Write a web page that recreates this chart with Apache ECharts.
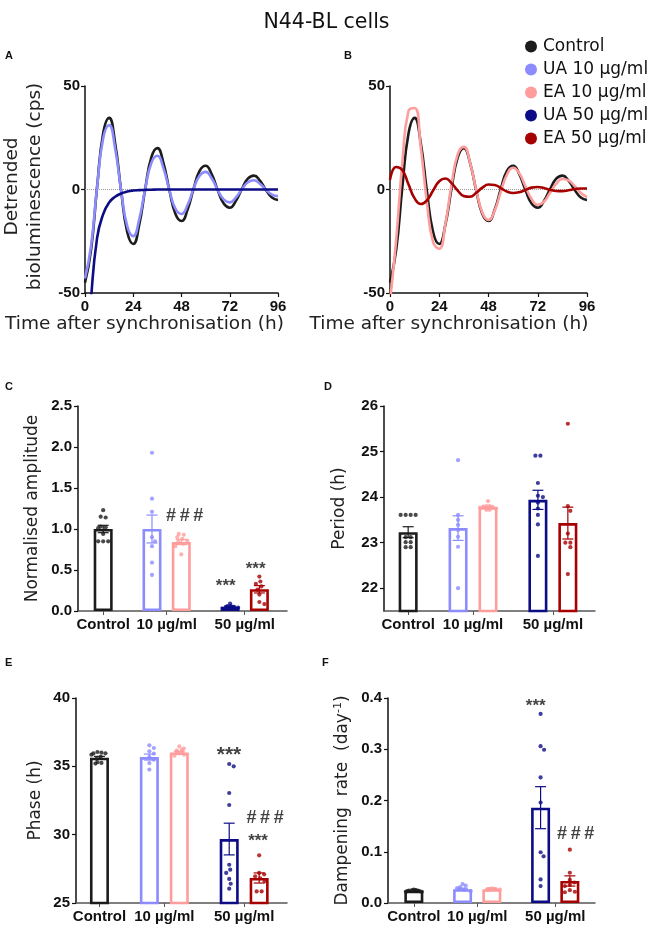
<!DOCTYPE html>
<html><head><meta charset="utf-8">
<script src="https://cdn.jsdelivr.net/npm/echarts@6/dist/echarts.min.js"></script>
<style>html,body{margin:0;padding:0;background:#fff}#c{width:653px;height:926px}</style>
</head><body><div id="c"></div>
<script>
// ================= DATA =================
const seriesNames = ['Control', 'UA 10 µg/ml', 'EA 10 µg/ml', 'UA 50 µg/ml', 'EA 50 µg/ml'];
const groupLabels = ['Control', '10 µg/ml', '50 µg/ml'];

// Detrended bioluminescence traces (cps), sampled every 3 h
const timeH = [0,3,6,9,12,15,18,21,24,27,30,33,36,39,42,45,48,51,54,57,60,63,66,69,72,75,78,81,84,87,90,93,96];
const controlTrace = [-45.0,-29.3,1.0,26.9,34.6,22.3,-0.8,-20.5,-26.3,-16.9,0.6,15.5,20.0,12.9,-0.5,-11.8,-15.2,-9.8,0.3,9.0,11.5,7.4,-0.3,-6.8,-8.8,-5.6,0.2,5.2,6.7,4.3,-0.2,-3.9,-5.1];
const ua10Trace = [-43.0,-27.3,1.0,24.5,31.1,19.7,-0.7,-17.7,-22.5,-14.3,0.5,12.8,16.3,10.3,-0.4,-9.3,-11.8,-7.5,0.3,6.7,8.5,5.4,-0.2,-4.8,-6.2,-3.9,0.1,3.5,4.5,2.8,-0.1,-2.5,-3.2];
const ua50Trace = [-95,-53,-23.5,-12,-6.3,-3.5,-1.9,-1.0,-0.5,-0.3,-0.2,-0.1,0,0,0,0,0,0,0,0,0,0,0,0,0,0,0,0,0,0,0,0,0];
const ea10Trace = [-53.8,-24.5,12.9,37.9,39.4,20.4,-6.3,-25.5,-28.6,-16.5,2.3,17.0,20.6,13.0,-0.1,-11.2,-14.7,-10.2,-1.0,7.2,10.5,7.8,1.5,-4.6,-7.4,-5.9,-1.6,2.8,5.1,4.4,1.6,-1.7,-3.6];
const ea50Trace = [4.7,10.9,9.4,2.5,-4.3,-7.0,-5.2,-0.5,4.0,5.3,3.1,-0.5,-3.2,-3.5,-1.6,0.9,2.4,2.2,0.7,-1.0,-1.7,-1.3,-0.2,0.9,1.2,0.7,-0.1,-0.7,-0.8,-0.4,0.2,0.5,0.5];

// Bar panels: order = Control, UA10, EA10, UA50, EA50
const amplitudeMean = [1.00, 1.00, 0.84, 0.053, 0.265];
const amplitudeSem  = [0.045, 0.17, 0.03, 0.007, 0.045];
const amplitudePoints = [
  [1.23,1.15,1.14,1.03,1.02,1.01,0.94,0.85,0.85,0.85],
  [1.93,1.37,1.21,0.90,0.85,0.79,0.59,0.44],
  [0.94,0.93,0.90,0.88,0.86,0.84,0.82,0.79,0.69],
  [0.09,0.06,0.06,0.05,0.05,0.05,0.04,0.04,0.03],
  [0.42,0.36,0.33,0.30,0.26,0.20,0.11,0.085]
];
const periodMean = [23.23, 23.32, 23.78, 23.94, 23.43];
const periodSem  = [0.12, 0.27, 0.02, 0.21, 0.35];
const periodPoints = [
  [23.61,23.61,23.61,23.61,23.12,23.12,23.01,23.01,22.90,22.90],
  [24.81,23.61,23.50,23.39,23.28,23.13,22.91,22.00],
  [23.91,23.80,23.80,23.79,23.78,23.77,23.75,23.72,23.72],
  [24.91,24.91,24.31,24.03,24.00,23.88,23.75,23.61,23.40,22.71],
  [25.61,23.80,23.70,23.20,23.00,23.00,22.90,22.31]
];
const phaseMean = [35.63, 35.68, 36.02, 29.68, 26.83];
const phaseSem  = [0.10, 0.22, 0.07, 1.16, 0.37];
const phasePoints = [
  [36.05,36.00,35.95,35.95,35.85,35.70,35.55,35.30,35.25,35.20],
  [36.54,36.34,36.10,35.93,35.68,35.49,35.24,34.76],
  [36.46,36.30,36.20,36.15,36.10,36.05,35.95,35.85,35.78],
  [35.17,35.00,33.05,32.17,27.80,27.44,27.20,26.76,26.41,26.05],
  [28.49,27.20,27.10,26.95,26.80,26.60,25.85,25.85]
];
const dampMean = [0.024, 0.027, 0.027, 0.186, 0.043];
const dampSem  = [0.001, 0.002, 0.0005, 0.041, 0.010];
const dampPoints = [
  [0.026,0.025,0.025,0.024,0.024,0.024,0.023,0.023,0.022,0.022],
  [0.037,0.034,0.031,0.029,0.027,0.026,0.023],
  [0.028,0.028,0.027,0.027,0.027,0.027,0.026,0.026,0.026],
  [0.369,0.306,0.299,0.245,0.196,0.099,0.091,0.046,0.033],
  [0.104,0.059,0.045,0.040,0.035,0.033,0.025,0.022,0.021]
];

// ================= STYLE / LAYOUT =================
const COLORS = ['#1c1c1c', '#8c8cff', '#ff9c9c', '#0c0c86', '#a60000'];
const GROUP_X = [0, 5, 8, 13, 16];      // slot of each bar on the x axis
const TICK_X = [0, 6.5, 14.5];          // slots of the three group labels
const NUM_FONT = 'Liberation Sans, Arial, sans-serif';
const TXT_FONT = 'DejaVu Sans, sans-serif';
const HASH = '#\u2009#\u2009#';

const grids = [
  {left: 81,  top: 86,  width: 197, height: 207},  // A
  {left: 390, top: 86,  width: 197, height: 207},  // B
  {left: 78,  top: 406, width: 209, height: 205},  // C
  {left: 384, top: 406, width: 211, height: 205},  // D
  {left: 76,  top: 698, width: 211, height: 205},  // E
  {left: 388, top: 698, width: 207, height: 205}   // F
];

const axisLineBlack = {show: true, onZero: false, lineStyle: {color: '#111', width: 1.5}};
const tickBlack = {show: true, length: 4, lineStyle: {color: '#111', width: 1.2}};
const numLabel = {fontFamily: NUM_FONT, fontWeight: 'bold', fontSize: 15, color: '#111'};

function lineX(gi, padRight) {
  return {gridIndex: gi, type: 'value', min: 0, max: 96, interval: 24,
    axisLine: axisLineBlack, axisTick: tickBlack, splitLine: {show: false},
    axisLabel: Object.assign({margin: 6}, numLabel),
    name: 'Time after synchronisation (h)', nameLocation: 'middle', nameGap: 19,
    nameTextStyle: {fontFamily: TXT_FONT, fontSize: 18.5, color: '#222', padding: [0, padRight, 0, 0]}};
}
function lineY(gi, name) {
  return {gridIndex: gi, type: 'value', min: -50, max: 50, interval: 50,
    axisLine: axisLineBlack, axisTick: tickBlack, splitLine: {show: false},
    axisLabel: Object.assign({margin: 5}, numLabel),
    name: name, nameLocation: 'middle', nameGap: 38,
    nameTextStyle: {fontFamily: TXT_FONT, fontSize: 18.5, color: '#222', lineHeight: 23, padding: [0, 0, 0, 6]}};
}
function barX(gi, min, max) {
  return {gridIndex: gi, type: 'value', min: min, max: max,
    axisLine: {show: true, onZero: false, lineStyle: {color: '#555', width: 1.5}},
    axisTick: {show: true, length: 4, customValues: TICK_X, lineStyle: {color: '#555'}},
    splitLine: {show: false},
    axisLabel: Object.assign({margin: 6, customValues: TICK_X,
      formatter: function (v) {
        let best = 0;
        TICK_X.forEach(function (t, i) { if (Math.abs(t - v) < Math.abs(TICK_X[best] - v)) best = i; });
        return groupLabels[best];
      }}, numLabel, {fontSize: 15})};
}
function barY(gi, cfg) {
  const ax = {gridIndex: gi, type: 'value', min: cfg.min, max: cfg.max,
    axisLine: axisLineBlack, axisTick: Object.assign({}, tickBlack),
    splitLine: {show: false},
    axisLabel: Object.assign({margin: 6}, numLabel, cfg.fmt ? {formatter: cfg.fmt} : {}),
    name: cfg.name, nameLocation: 'middle', nameGap: cfg.gap,
    nameTextStyle: Object.assign({fontFamily: TXT_FONT, fontSize: 17, color: '#222'}, cfg.nameStyle || {})};
  if (cfg.custom) {
    ax.axisLabel.customValues = cfg.custom;
    ax.axisTick.customValues = cfg.custom;
  } else {
    ax.interval = cfg.interval;
  }
  return ax;
}

// deterministic beeswarm offsets (pixels) so that dots do not overlap, kept inside the bar
function swarm(vals, pxPerUnit) {
  const D = 5.0, MAXOFF = 8;
  const order = vals.map(function (v, i) { return i; }).sort(function (a, b) { return vals[b] - vals[a]; });
  const placed = [];
  const off = new Array(vals.length).fill(0);
  order.forEach(function (i) {
    const y = vals[i] * pxPerUnit;
    let chosen = 0;
    for (let s = 0; s < 120; s++) {
      const cand = (s % 2 === 1 ? 1 : -1) * Math.ceil(s / 2) * 0.5;
      if (placed.every(function (p) { return Math.hypot(p.x - cand, p.y - y) >= D; })) { chosen = cand; break; }
    }
    off[i] = chosen;
    placed.push({x: chosen, y: y});
  });
  const used = new Array(vals.length).fill(false);
  for (let a = 0; a < vals.length; a++) {
    if (used[a]) continue;
    const row = [];
    for (let b = 0; b < vals.length; b++) {
      if (!used[b] && Math.abs(vals[b] - vals[a]) * pxPerUnit < 1) row.push(b);
    }
    row.forEach(function (b) { used[b] = true; });
    if (row.length > 1) {
      const m = row.reduce(function (s, b) { return s + off[b]; }, 0) / row.length;
      row.forEach(function (b) { off[b] -= m; });
    }
  }
  const mx = Math.max.apply(null, off.map(Math.abs));
  if (mx > MAXOFF) { for (let j = 0; j < off.length; j++) off[j] *= MAXOFF / mx; }
  return off;
}

function barPanelSeries(gi, means, sems, points, pxPerUnit, notes) {
  const out = [];
  out.push({type: 'bar', xAxisIndex: gi, yAxisIndex: gi, barWidth: 19, silent: true, z: 2, clip: true,
    data: means.map(function (m, k) {
      return {value: [GROUP_X[k], m], itemStyle: {color: 'rgba(255,255,255,0)', borderColor: COLORS[k], borderWidth: 2.6}};
    })});
  out.push({type: 'custom', xAxisIndex: gi, yAxisIndex: gi, silent: true, z: 3,
    encode: {x: 0, y: [1, 2]},
    data: means.map(function (m, k) { return [GROUP_X[k], m - sems[k], m + sems[k], k]; }),
    renderItem: function (params, api) {
      const x = api.value(0), k = api.value(3);
      const lo = api.coord([x, api.value(1)]), hi = api.coord([x, api.value(2)]);
      const h = 5.5, st = {stroke: COLORS[k], lineWidth: 1.2};
      return {type: 'group', children: [
        {type: 'line', shape: {x1: lo[0], y1: lo[1], x2: hi[0], y2: hi[1]}, style: st},
        {type: 'line', shape: {x1: hi[0] - h, y1: hi[1], x2: hi[0] + h, y2: hi[1]}, style: st},
        {type: 'line', shape: {x1: lo[0] - h, y1: lo[1], x2: lo[0] + h, y2: lo[1]}, style: st}
      ]};
    }});
  const dots = [];
  points.forEach(function (vals, k) {
    const off = swarm(vals, pxPerUnit);
    vals.forEach(function (v, j) {
      dots.push({value: [GROUP_X[k], v], symbolOffset: [off[j], 0], itemStyle: {color: COLORS[k]}});
    });
  });
  out.push({type: 'scatter', xAxisIndex: gi, yAxisIndex: gi, symbol: 'circle', symbolSize: 4.2, silent: true, z: 4, data: dots});
  out.push({type: 'scatter', xAxisIndex: gi, yAxisIndex: gi, symbolSize: 1, silent: true, z: 5,
    itemStyle: {color: 'rgba(0,0,0,0)'},
    data: notes.map(function (n) {
      return {value: [n.x, n.y], label: {show: true, position: 'inside', formatter: n.t,
        fontFamily: NUM_FONT, fontWeight: 'bold', fontSize: n.s || 17, color: '#111'}};
    })});
  return out;
}

function trace(name, values, gi, k, extra) {
  return Object.assign({type: 'line', name: name, xAxisIndex: gi, yAxisIndex: gi, smooth: 0.5, symbol: 'none', clip: true,
    data: timeH.map(function (t, i) { return [t, values[i]]; }),
    lineStyle: {color: COLORS[k], width: 2.6}, itemStyle: {color: COLORS[k]}, z: 2}, extra || {});
}
const zeroLine = {markLine: {silent: true, z: 1, symbol: 'none', label: {show: false},
  lineStyle: {type: 'dotted', color: '#9a9a9a', width: 1}, data: [{yAxis: 0}]}};

const option = {
  animation: false,
  backgroundColor: '#fff',
  title: {text: 'N44-BL cells', left: 'center', top: 7,
    textStyle: {fontFamily: TXT_FONT, fontSize: 20.5, fontWeight: 'normal', color: '#111'}},
  legend: {data: seriesNames, orient: 'vertical', left: 520, top: 33, icon: 'circle',
    itemWidth: 14, itemHeight: 12, itemGap: 6, selectedMode: false,
    textStyle: {fontFamily: TXT_FONT, fontSize: 17, lineHeight: 17, color: '#111'}},
  grid: grids,
  xAxis: [
    lineX(0, 74), lineX(1, 79),
    barX(2, -2.58, 18.83), barX(3, -2.42, 18.72), barX(4, -2.35, 18.79), barX(5, -2.65, 18.58)
  ],
  yAxis: [
    lineY(0, 'Detrended\nbioluminescence (cps)'), lineY(1, ''),
    barY(2, {min: 0, max: 2.5, interval: 0.5, fmt: function (v) { return v.toFixed(1); }, name: 'Normalised amplitude', gap: 37}),
    barY(3, {min: 21.5, max: 26, custom: [22, 23, 24, 25, 26], name: 'Period (h)', gap: 36}),
    barY(4, {min: 25, max: 40, interval: 5, name: 'Phase (h)', gap: 32}),
    barY(5, {min: 0, max: 0.4, interval: 0.1, fmt: function (v) { return v.toFixed(1); },
      name: 'Dampening  rate  (day{sup|-1})', gap: 36,
      nameStyle: {rich: {sup: {fontFamily: TXT_FONT, fontSize: 11, verticalAlign: 'top', padding: [0, 0, 8, 0], color: '#222'}}}})
  ],
  series: [].concat(
    [trace('Control', controlTrace, 0, 0, zeroLine), trace('UA 10 µg/ml', ua10Trace, 0, 1), trace('UA 50 µg/ml', ua50Trace, 0, 3)],
    [trace('Control', controlTrace, 1, 0, zeroLine), trace('EA 10 µg/ml', ea10Trace, 1, 2), trace('EA 50 µg/ml', ea50Trace, 1, 4)],
    barPanelSeries(2, amplitudeMean, amplitudeSem, amplitudePoints, 82, [
      {x: 8.35, y: 1.16, t: HASH, s: 18}, {x: 12.55, y: 0.30, t: '***'}, {x: 15.62, y: 0.51, t: '***'}]),
    barPanelSeries(3, periodMean, periodSem, periodPoints, 45.56, []),
    barPanelSeries(4, phaseMean, phaseSem, phasePoints, 13.67, [
      {x: 12.98, y: 35.85, t: '***', s: 21}, {x: 16.59, y: 31.24, t: HASH, s: 18}, {x: 15.89, y: 29.5, t: '***'}]),
    barPanelSeries(5, dampMean, dampSem, dampPoints, 512.5, [
      {x: 12.5, y: 0.384, t: '***'}, {x: 16.6, y: 0.135, t: HASH, s: 18}])
  ),
  graphic: [
    {type: 'text', x: 5, y: 56, style: {text: 'A', font: 'bold 11px Liberation Sans', fill: '#111', verticalAlign: 'middle'}},
    {type: 'text', x: 344, y: 56, style: {text: 'B', font: 'bold 11px Liberation Sans', fill: '#111', verticalAlign: 'middle'}},
    {type: 'text', x: 5, y: 387, style: {text: 'C', font: 'bold 11px Liberation Sans', fill: '#111', verticalAlign: 'middle'}},
    {type: 'text', x: 324, y: 387, style: {text: 'D', font: 'bold 11px Liberation Sans', fill: '#111', verticalAlign: 'middle'}},
    {type: 'text', x: 5, y: 663, style: {text: 'E', font: 'bold 11px Liberation Sans', fill: '#111', verticalAlign: 'middle'}},
    {type: 'text', x: 322, y: 663, style: {text: 'F', font: 'bold 11px Liberation Sans', fill: '#111', verticalAlign: 'middle'}}
  ]
};

const chart = echarts.init(document.getElementById('c'), null, {renderer: 'canvas'});
chart.setOption(option);
</script>
</body></html>
